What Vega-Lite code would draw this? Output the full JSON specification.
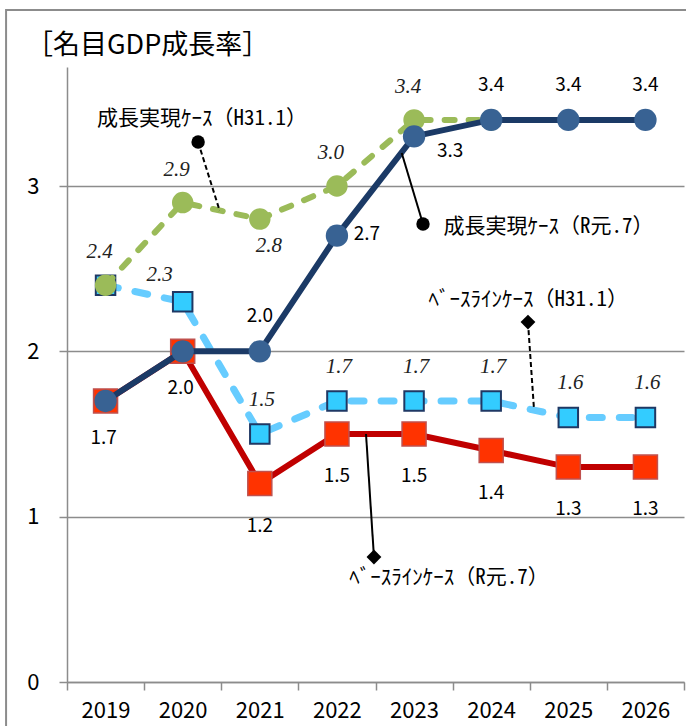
{
  "$schema": "https://vega.github.io/schema/vega-lite/v6.json",
  "width": 617,
  "height": 615,
  "autosize": {"type": "none"},
  "padding": {"left": 67, "top": 67, "right": 2, "bottom": 44},
  "background": "white",
  "config": {"view": {"stroke": null}, "font": "Noto Sans CJK JP"},
  "resolve": {"axis": {"x": "independent", "y": "independent"}},
  "datasets": {
    "series": [
      {"year": 2019, "series": "成長R", "value": 1.7},
      {"year": 2020, "series": "成長R", "value": 2.0},
      {"year": 2021, "series": "成長R", "value": 2.0},
      {"year": 2022, "series": "成長R", "value": 2.7},
      {"year": 2023, "series": "成長R", "value": 3.3},
      {"year": 2024, "series": "成長R", "value": 3.4},
      {"year": 2025, "series": "成長R", "value": 3.4},
      {"year": 2026, "series": "成長R", "value": 3.4},
      {"year": 2019, "series": "成長H", "value": 2.4},
      {"year": 2020, "series": "成長H", "value": 2.9},
      {"year": 2021, "series": "成長H", "value": 2.8},
      {"year": 2022, "series": "成長H", "value": 3.0},
      {"year": 2023, "series": "成長H", "value": 3.4},
      {"year": 2024, "series": "成長H", "value": 3.4},
      {"year": 2019, "series": "ベースH", "value": 2.4},
      {"year": 2020, "series": "ベースH", "value": 2.3},
      {"year": 2021, "series": "ベースH", "value": 1.5},
      {"year": 2022, "series": "ベースH", "value": 1.7},
      {"year": 2023, "series": "ベースH", "value": 1.7},
      {"year": 2024, "series": "ベースH", "value": 1.7},
      {"year": 2025, "series": "ベースH", "value": 1.6},
      {"year": 2026, "series": "ベースH", "value": 1.6},
      {"year": 2019, "series": "ベースR", "value": 1.7},
      {"year": 2020, "series": "ベースR", "value": 2.0},
      {"year": 2021, "series": "ベースR", "value": 1.2},
      {"year": 2022, "series": "ベースR", "value": 1.5},
      {"year": 2023, "series": "ベースR", "value": 1.5},
      {"year": 2024, "series": "ベースR", "value": 1.4},
      {"year": 2025, "series": "ベースR", "value": 1.3},
      {"year": 2026, "series": "ベースR", "value": 1.3}
    ],
    "notes": [
      {"label": "成長実現ｹｰｽ（H31.1）", "tx": 2020.25, "ty": 3.405, "mx": 2020.2, "my": 3.266, "ex": 2020.48, "ey": 2.85},
      {"label": "成長実現ｹｰｽ（R元.7）", "tx": 2024.743, "ty": 2.752, "mx": 2023.116, "my": 2.77, "ex": 2022.84, "ey": 3.2},
      {"label": "ﾍﾞｰｽﾗｲﾝｹｰｽ（H31.1）", "tx": 2024.48, "ty": 2.31, "mx": 2024.477, "my": 2.177, "ex": 2024.555, "ey": 1.65},
      {"label": "ﾍﾞｰｽﾗｲﾝｹｰｽ（R元.7）", "tx": 2023.453, "ty": 0.629, "mx": 2022.48, "my": 0.756, "ex": 2022.377, "ey": 1.5}
    ],
    "heading": [{"text": "［名目GDP成長率］", "x": 2017.968, "y": 3.847}],
    "frame": [{"x": 2017.71, "x2": 2030, "y": 4.065, "y2": -1}]
  },
  "layer": [
    {
      "data": {"name": "series"},
      "transform": [{"filter": "datum.series === 'ベースR'"}],
      "mark": {"type": "line", "color": "#C00000", "strokeWidth": 6},
      "encoding": {
        "x": {"field": "year", "type": "quantitative", "scale": {"domain": [2018.5, 2026.5], "nice": false, "zero": false},
          "axis": {"values": [2018.5, 2019.5, 2020.5, 2021.5, 2022.5, 2023.5, 2024.5, 2025.5, 2026.5], "labelExpr": "datum.value < 2026 ? toString(datum.value + 0.5) : ''", "labelOffset": 38.5, "title": null, "grid": false, "domainColor": "#8c8c8c", "domainWidth": 1.5, "tickColor": "#8c8c8c", "tickWidth": 1.5, "tickSize": 8, "labelFontSize": 22, "labelColor": "#000000", "labelPadding": 10, "labelFlush": false, "labelOverlap": false, "labelBound": false, "labelFont": "Noto Sans CJK JP"}},
        "y": {"field": "value", "type": "quantitative", "scale": {"domain": [0, 3.72], "nice": false},
          "axis": {"values": [0, 1, 2, 3], "title": null, "grid": true, "gridColor": "#8c8c8c", "gridWidth": 1.5, "domainColor": "#8c8c8c", "domainWidth": 1.5, "tickColor": "#8c8c8c", "tickWidth": 1.5, "tickSize": 8, "labelFontSize": 22, "labelColor": "#000000", "labelPadding": 20, "labelFont": "Noto Sans CJK JP"}}
      }
    },
    {
      "data": {"name": "frame"},
      "mark": {"type": "rect", "fill": null, "stroke": "#8c8c8c", "strokeWidth": 2, "clip": false},
      "encoding": {
        "x": {"field": "x", "type": "quantitative", "axis": null},
        "x2": {"field": "x2"},
        "y": {"field": "y", "type": "quantitative", "axis": null},
        "y2": {"field": "y2"}
      }
    },
    {
      "data": {"name": "heading"},
      "mark": {"type": "text", "font": "Noto Sans CJK JP", "fontSize": 27, "color": "#000000", "align": "left", "baseline": "middle"},
      "encoding": {
        "x": {"field": "x", "type": "quantitative", "axis": null},
        "y": {"field": "y", "type": "quantitative", "axis": null},
        "text": {"field": "text", "type": "nominal"}
      }
    },
    {
      "data": {"name": "series"},
      "transform": [{"filter": "datum.series === 'ベースR'"}],
      "mark": {"type": "square", "size": 576, "fill": "#FF3300", "stroke": "#C0504D", "strokeWidth": 1.5, "opacity": 1},
      "encoding": {
        "x": {"field": "year", "type": "quantitative", "axis": null},
        "y": {"field": "value", "type": "quantitative", "axis": null}
      }
    },
    {
      "data": {"name": "series"},
      "transform": [{"filter": "datum.series === 'ベースH'"}],
      "mark": {"type": "line", "color": "#66CCFF", "strokeWidth": 7, "strokeDash": [13, 17], "strokeCap": "round"},
      "encoding": {
        "x": {"field": "year", "type": "quantitative", "axis": null},
        "y": {"field": "value", "type": "quantitative", "axis": null}
      }
    },
    {
      "data": {"name": "series"},
      "transform": [{"filter": "datum.series === 'ベースH'"}],
      "mark": {"type": "square", "size": 380, "fill": "#33CCFF", "stroke": "#1F3864", "strokeWidth": 2, "opacity": 1},
      "encoding": {
        "x": {"field": "year", "type": "quantitative", "axis": null},
        "y": {"field": "value", "type": "quantitative", "axis": null}
      }
    },
    {
      "data": {"name": "series"},
      "transform": [{"filter": "datum.series === '成長H'"}],
      "mark": {"type": "line", "color": "#9BBB59", "strokeWidth": 6, "strokeDash": [10, 14], "strokeCap": "round"},
      "encoding": {
        "x": {"field": "year", "type": "quantitative", "axis": null},
        "y": {"field": "value", "type": "quantitative", "axis": null}
      }
    },
    {
      "data": {"name": "series"},
      "transform": [{"filter": "datum.series === '成長H'"}],
      "mark": {"type": "circle", "size": 460, "fill": "#9BBB59", "opacity": 1},
      "encoding": {
        "x": {"field": "year", "type": "quantitative", "axis": null},
        "y": {"field": "value", "type": "quantitative", "axis": null}
      }
    },
    {
      "data": {"name": "series"},
      "transform": [{"filter": "datum.series === '成長R'"}],
      "mark": {"type": "line", "color": "#1B3A66", "strokeWidth": 6},
      "encoding": {
        "x": {"field": "year", "type": "quantitative", "axis": null},
        "y": {"field": "value", "type": "quantitative", "axis": null}
      }
    },
    {
      "data": {"name": "series"},
      "transform": [{"filter": "datum.series === '成長R'"}],
      "mark": {"type": "circle", "size": 500, "fill": "#386293", "opacity": 1},
      "encoding": {
        "x": {"field": "year", "type": "quantitative", "axis": null},
        "y": {"field": "value", "type": "quantitative", "axis": null}
      }
    },
    {
      "data": {"name": "series"},
      "transform": [{"filter": "datum.series === '成長H' && indexof([2019, 2020, 2022, 2023], datum.year) >= 0"}],
      "mark": {"type": "text", "font": "Liberation Serif", "fontStyle": "italic", "fontSize": 21, "color": "#222222", "dx": -6, "dy": -33, "baseline": "middle"},
      "encoding": {
        "x": {"field": "year", "type": "quantitative", "axis": null},
        "y": {"field": "value", "type": "quantitative", "axis": null},
        "text": {"field": "value", "type": "quantitative", "format": ".1f"}
      }
    },
    {
      "data": {"name": "series"},
      "transform": [{"filter": "datum.series === '成長H' && datum.year === 2021"}],
      "mark": {"type": "text", "font": "Liberation Serif", "fontStyle": "italic", "fontSize": 21, "color": "#222222", "dx": 9, "dy": 27, "baseline": "middle"},
      "encoding": {
        "x": {"field": "year", "type": "quantitative", "axis": null},
        "y": {"field": "value", "type": "quantitative", "axis": null},
        "text": {"field": "value", "type": "quantitative", "format": ".1f"}
      }
    },
    {
      "data": {"name": "series"},
      "transform": [{"filter": "datum.series === 'ベースH' && datum.year >= 2021"}],
      "mark": {"type": "text", "font": "Liberation Serif", "fontStyle": "italic", "fontSize": 21, "color": "#222222", "dx": 2, "dy": -34, "baseline": "middle"},
      "encoding": {
        "x": {"field": "year", "type": "quantitative", "axis": null},
        "y": {"field": "value", "type": "quantitative", "axis": null},
        "text": {"field": "value", "type": "quantitative", "format": ".1f"}
      }
    },
    {
      "data": {"name": "series"},
      "transform": [{"filter": "datum.series === 'ベースH' && datum.year === 2020"}],
      "mark": {"type": "text", "font": "Liberation Serif", "fontStyle": "italic", "fontSize": 21, "color": "#222222", "dx": -23, "dy": -27, "baseline": "middle"},
      "encoding": {
        "x": {"field": "year", "type": "quantitative", "axis": null},
        "y": {"field": "value", "type": "quantitative", "axis": null},
        "text": {"field": "value", "type": "quantitative", "format": ".1f"}
      }
    },
    {
      "data": {"name": "series"},
      "transform": [{"filter": "datum.series === '成長R' && indexof([2019, 2020], datum.year) >= 0"}],
      "mark": {"type": "text", "font": "Noto Sans CJK JP", "fontSize": 19, "color": "#000000", "dx": -2, "dy": 37, "baseline": "middle"},
      "encoding": {
        "x": {"field": "year", "type": "quantitative", "axis": null},
        "y": {"field": "value", "type": "quantitative", "axis": null},
        "text": {"field": "value", "type": "quantitative", "format": ".1f"}
      }
    },
    {
      "data": {"name": "series"},
      "transform": [{"filter": "datum.series === '成長R' && indexof([2021, 2024, 2025, 2026], datum.year) >= 0"}],
      "mark": {"type": "text", "font": "Noto Sans CJK JP", "fontSize": 19, "color": "#000000", "dx": 0, "dy": -35, "baseline": "middle"},
      "encoding": {
        "x": {"field": "year", "type": "quantitative", "axis": null},
        "y": {"field": "value", "type": "quantitative", "axis": null},
        "text": {"field": "value", "type": "quantitative", "format": ".1f"}
      }
    },
    {
      "data": {"name": "series"},
      "transform": [{"filter": "datum.series === '成長R' && datum.year === 2022"}],
      "mark": {"type": "text", "font": "Noto Sans CJK JP", "fontSize": 19, "color": "#000000", "dx": 30, "dy": -2, "baseline": "middle"},
      "encoding": {
        "x": {"field": "year", "type": "quantitative", "axis": null},
        "y": {"field": "value", "type": "quantitative", "axis": null},
        "text": {"field": "value", "type": "quantitative", "format": ".1f"}
      }
    },
    {
      "data": {"name": "series"},
      "transform": [{"filter": "datum.series === '成長R' && datum.year === 2023"}],
      "mark": {"type": "text", "font": "Noto Sans CJK JP", "fontSize": 19, "color": "#000000", "dx": 36, "dy": 15, "baseline": "middle"},
      "encoding": {
        "x": {"field": "year", "type": "quantitative", "axis": null},
        "y": {"field": "value", "type": "quantitative", "axis": null},
        "text": {"field": "value", "type": "quantitative", "format": ".1f"}
      }
    },
    {
      "data": {"name": "series"},
      "transform": [{"filter": "datum.series === 'ベースR' && datum.year >= 2021"}],
      "mark": {"type": "text", "font": "Noto Sans CJK JP", "fontSize": 19, "color": "#000000", "dx": 0, "dy": 42, "baseline": "middle"},
      "encoding": {
        "x": {"field": "year", "type": "quantitative", "axis": null},
        "y": {"field": "value", "type": "quantitative", "axis": null},
        "text": {"field": "value", "type": "quantitative", "format": ".1f"}
      }
    },
    {
      "data": {"name": "notes"},
      "transform": [{"filter": "indexof(datum.label, 'H31') >= 0"}],
      "mark": {"type": "rule", "color": "#000000", "strokeWidth": 2, "strokeDash": [5, 3]},
      "encoding": {
        "x": {"field": "mx", "type": "quantitative", "axis": null},
        "y": {"field": "my", "type": "quantitative", "axis": null},
        "x2": {"field": "ex"},
        "y2": {"field": "ey"}
      }
    },
    {
      "data": {"name": "notes"},
      "transform": [{"filter": "indexof(datum.label, 'R元') >= 0"}],
      "mark": {"type": "rule", "color": "#000000", "strokeWidth": 2},
      "encoding": {
        "x": {"field": "mx", "type": "quantitative", "axis": null},
        "y": {"field": "my", "type": "quantitative", "axis": null},
        "x2": {"field": "ex"},
        "y2": {"field": "ey"}
      }
    },
    {
      "data": {"name": "notes"},
      "transform": [{"filter": "indexof(datum.label, '成長') >= 0"}],
      "mark": {"type": "circle", "size": 180, "fill": "#000000", "opacity": 1},
      "encoding": {
        "x": {"field": "mx", "type": "quantitative", "axis": null},
        "y": {"field": "my", "type": "quantitative", "axis": null}
      }
    },
    {
      "data": {"name": "notes"},
      "transform": [{"filter": "indexof(datum.label, '成長') < 0"}],
      "mark": {"type": "point", "shape": "diamond", "filled": true, "size": 220, "fill": "#000000", "opacity": 1},
      "encoding": {
        "x": {"field": "mx", "type": "quantitative", "axis": null},
        "y": {"field": "my", "type": "quantitative", "axis": null}
      }
    },
    {
      "data": {"name": "notes"},
      "mark": {"type": "text", "font": "Noto Sans Mono CJK JP, Noto Sans CJK JP", "fontSize": 21, "color": "#000000", "align": "center", "baseline": "middle"},
      "encoding": {
        "x": {"field": "tx", "type": "quantitative", "axis": null},
        "y": {"field": "ty", "type": "quantitative", "axis": null},
        "text": {"field": "label", "type": "nominal"}
      }
    }
  ]
}
